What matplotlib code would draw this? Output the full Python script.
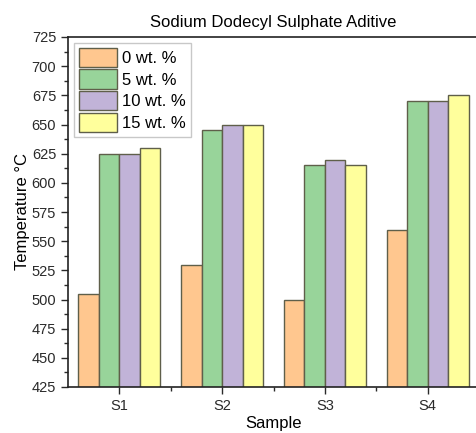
import numpy as np
import matplotlib
matplotlib.use("Agg")
import matplotlib.pyplot as plt
from matplotlib.ticker import MultipleLocator, FixedLocator

# Datos
muestras = ["S1", "S2", "S3", "S4"]
series = ["0 wt. %", "5 wt. %", "10 wt. %", "15 wt. %"]
temp_0 = [505, 530, 500, 560]
temp_5 = [625, 645, 615, 670]
temp_10 = [625, 650, 620, 670]
temp_15 = [630, 650, 615, 675]

colores = ["#FFC78F", "#98D49A", "#C1B3D8", "#FFFF9C"]

plt.rcParams['font.family'] = ['Liberation Sans', 'DejaVu Sans']

fig = plt.figure(figsize=(4.76, 4.33), dpi=100)
ax = fig.add_axes([68 / 476, 46 / 433, 411 / 476, 350 / 433])

x = np.arange(1, len(muestras) + 1)
ancho = 0.2
for i, (nombre, vals) in enumerate(zip(series, [temp_0, temp_5, temp_10, temp_15])):
    ax.bar(x + (i - 1.5) * ancho, vals, ancho, bottom=0, color=colores[i],
           edgecolor="#5f5f4a", linewidth=1.0, label=nombre)

ax.set_xlim(0.5, 4.5)
ax.set_ylim(425, 725)
ax.set_xticks(x)
ax.set_xticklabels(muestras)
ax.xaxis.set_minor_locator(FixedLocator([1.5, 2.5, 3.5]))
ax.yaxis.set_major_locator(MultipleLocator(25))
ax.yaxis.set_minor_locator(MultipleLocator(12.5))
ax.tick_params(axis='both', which='major', labelsize=10.5, length=5, width=1, colors="#2a2a2a")
ax.tick_params(axis='both', which='minor', length=3, width=1, colors="#2a2a2a")

for lado in ax.spines.values():
    lado.set_linewidth(1.2)
    lado.set_color("#222222")

ax.set_title("Sodium Dodecyl Sulphate Aditive", fontsize=12, pad=7)
ax.set_xlabel("Sample", fontsize=12, labelpad=2)
ax.set_ylabel("Temperature °C", fontsize=12, labelpad=1)

leg = ax.legend(loc="upper left", fontsize=12, frameon=True, fancybox=False,
                handlelength=2.3, handleheight=1.4, handletextpad=0.3,
                labelspacing=0.14, borderpad=0.3, borderaxespad=0.35)
leg.get_frame().set_edgecolor("#bbbbbb")
leg.get_frame().set_linewidth(1.0)

fig.savefig("out.png", dpi=100)
